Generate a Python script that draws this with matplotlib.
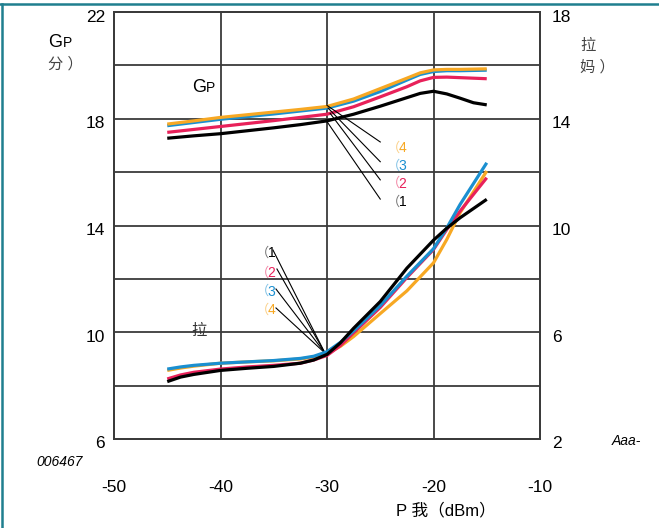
import matplotlib
matplotlib.use("Agg")
import matplotlib.pyplot as plt
from matplotlib.lines import Line2D

plt.rcParams["font.family"] = ["Liberation Sans", "Noto Sans CJK SC", "DejaVu Sans"]

# power in (dBm) for the gain curves
x_gp = [-45, -42.5, -40, -37.5, -35, -32.5, -30, -27.5, -25, -22.5, -21.25, -20, -18.75, -17.5, -16.25, -15]

# power gain Gp (dB), left axis
gp_1 = [17.27, 17.36, 17.44, 17.55, 17.66, 17.78, 17.92, 18.17, 18.47, 18.79, 18.95, 19.03, 18.93, 18.77, 18.6, 18.52]
gp_2 = [17.49, 17.6, 17.71, 17.82, 17.93, 18.05, 18.17, 18.45, 18.82, 19.2, 19.42, 19.55, 19.56, 19.54, 19.52, 19.5]
gp_3 = [17.74, 17.86, 17.98, 18.08, 18.18, 18.29, 18.4, 18.66, 19.02, 19.45, 19.66, 19.77, 19.8, 19.8, 19.81, 19.82]
gp_4 = [17.8, 17.92, 18.05, 18.15, 18.25, 18.35, 18.46, 18.74, 19.13, 19.52, 19.72, 19.83, 19.85, 19.85, 19.86, 19.87]

# power in (dBm) for the efficiency curves
x_eta = [-45, -43.75, -42.5, -40, -37.5, -35, -32.5, -31.25, -30, -28.75, -27.5, -25, -22.5, -20, -18.75, -17.5, -15]

# efficiency, right axis
eta_1 = [4.15, 4.32, 4.42, 4.57, 4.65, 4.72, 4.84, 4.96, 5.17, 5.6, 6.15, 7.15, 8.4, 9.45, 9.9, 10.29, 10.98]
eta_2 = [4.25, 4.4, 4.5, 4.62, 4.7, 4.76, 4.84, 4.96, 5.13, 5.5, 5.98, 6.93, 8.05, 9.1, 9.85, 10.54, 11.79]
eta_3 = [4.62, 4.7, 4.76, 4.84, 4.89, 4.94, 5.02, 5.1, 5.27, 5.62, 6.05, 7.0, 8.1, 9.13, 9.91, 10.79, 12.35]
eta_4 = [4.57, 4.66, 4.73, 4.84, 4.89, 4.93, 5.0, 5.07, 5.2, 5.47, 5.84, 6.7, 7.55, 8.6, 9.48, 10.48, 12.04]

x_ticks = [-50, -40, -30, -20, -10]
left_ticks = [6, 10, 14, 18, 22]
right_ticks = [2, 6, 10, 14, 18]
curve_ids = ["1", "2", "3", "4"]

colors = {"1": "#000000", "2": "#e8215a", "3": "#1a8fd0", "4": "#f7a823"}
GRID = "#3a3a3a"

W, H = 659, 528
fig = plt.figure(figsize=(W / 100, H / 100), dpi=100)


def fx(px):
    return px / W


def fy(py):
    return 1 - py / H


ax = fig.add_axes([fx(114), fy(439), (540 - 114) / W, (439 - 12) / H])
ax2 = ax.twinx()
ax.set_xlim(-50, -10)
ax.set_ylim(6, 22)
ax2.set_ylim(2, 18)

ax.set_xticks([-40, -30, -20])
ax.set_yticks(range(8, 22, 2))
ax.grid(True, color=GRID, linewidth=1.3)
ax.tick_params(length=0, labelleft=False, labelbottom=False)
ax2.tick_params(length=0, labelright=False)
for a in (ax, ax2):
    for sp in a.spines.values():
        sp.set_color(GRID)
        sp.set_linewidth(1.3)

# tick labels drawn by hand so they sit like the original
for v in left_ticks:
    ax.annotate(str(v), xy=(0, v), xycoords=("axes fraction", "data"), xytext=(-9, -5),
                textcoords="offset pixels", ha="right", va="center", fontsize=12.5)
for v in right_ticks:
    ax2.annotate(str(v), xy=(1, v), xycoords=("axes fraction", "data"), xytext=(12, -5),
                 textcoords="offset pixels", ha="left", va="center", fontsize=12.5)
for v in x_ticks:
    ax.annotate(str(v), xy=(v, 0), xycoords=("data", "axes fraction"), xytext=(0, -49),
                textcoords="offset pixels", ha="center", va="center", fontsize=12.5)

# curves
gp_series = {"1": gp_1, "2": gp_2, "3": gp_3, "4": gp_4}
eta_series = {"1": eta_1, "2": eta_2, "3": eta_3, "4": eta_4}
for k in curve_ids:
    ax.plot(x_gp, gp_series[k], color=colors[k], linewidth=2.3, solid_capstyle="butt",
            solid_joinstyle="round", zorder=3)
for k in ["4", "2", "3", "1"]:
    ax2.plot(x_eta, eta_series[k], color=colors[k], linewidth=2.3, solid_capstyle="butt",
             solid_joinstyle="round", zorder=3)

# leader lines + labels, upper group (Gp)
up_start = {"4": (-30.0, 18.5), "3": (-29.9, 18.4), "2": (-29.7, 18.2), "1": (-30.1, 17.95)}
up_end = {"4": (-25.0, 17.13), "3": (-25.0, 16.39), "2": (-25.0, 15.71), "1": (-25.0, 14.99)}
up_lab = {"4": 16.9, "3": 16.23, "2": 15.56, "1": 14.88}
for k in curve_ids:
    (x0, y0), (x1, y1) = up_start[k], up_end[k]
    ax.add_line(Line2D([x0, x1], [y0, y1], color="black", linewidth=0.8, zorder=4))
    ax.text(-23.8, up_lab[k], "（", color=colors[k], alpha=0.55, fontsize=9.5, ha="center", va="center")
    ax.text(-22.9, up_lab[k], k, color=colors[k], fontsize=10, ha="center", va="center")

# leader lines + labels, lower group (efficiency)
lo_end = {"1": (-35.07, 13.08), "2": (-34.7, 12.37), "3": (-34.79, 11.62), "4": (-34.79, 10.91)}
lo_lab = {"1": 12.97, "2": 12.22, "3": 11.51, "4": 10.83}
for k in curve_ids:
    x1, y1 = lo_end[k]
    ax.add_line(Line2D([-30.19, x1], [9.22, y1], color="black", linewidth=0.8, zorder=4))
    ax.text(-36.1, lo_lab[k], "（", color=colors[k], alpha=0.55, fontsize=9.5, ha="center", va="center")
    ax.text(-35.2, lo_lab[k], k, color=colors[k], fontsize=10, ha="center", va="center")

# in-plot names
ax.text(-42.7, 19.0, "G", fontsize=13, ha="left", va="baseline")
ax.annotate("P", xy=(-42.7, 19.0), xycoords="data", xytext=(14, 0), textcoords="offset pixels",
            fontsize=10, ha="left", va="baseline")
ax.text(-42.7, 10.05, "拉", fontsize=11, color="#333333", ha="left", va="center")

# axis titles
fig.text(fx(48), fy(47), "G", fontsize=13, va="baseline")
fig.text(fx(63), fy(47), "P", fontsize=10, va="baseline")
fig.text(fx(48), fy(64), "分 ）", fontsize=11, color="#444444", va="center")
fig.text(fx(580), fy(46), "拉", fontsize=11, color="#444444", va="center")
fig.text(fx(580), fy(67), "妈 ）", fontsize=11, color="#444444", va="center")
fig.text(fx(396), fy(510), "P 我（dBm）", fontsize=12, va="center")
fig.text(fx(612), fy(441), "Aaa-", fontsize=10, style="italic", va="center")
fig.text(fx(36), fy(462), "006467", fontsize=10, style="italic", va="center")

# page frame
TEAL = "#1f7f8f"
fig.add_artist(Line2D([fx(0), fx(W)], [fy(4), fy(4)], color=TEAL, linewidth=1.8))
fig.add_artist(Line2D([fx(1.5), fx(1.5)], [fy(4), fy(H)], color=TEAL, linewidth=1.8))

fig.savefig("out.png", dpi=100)
